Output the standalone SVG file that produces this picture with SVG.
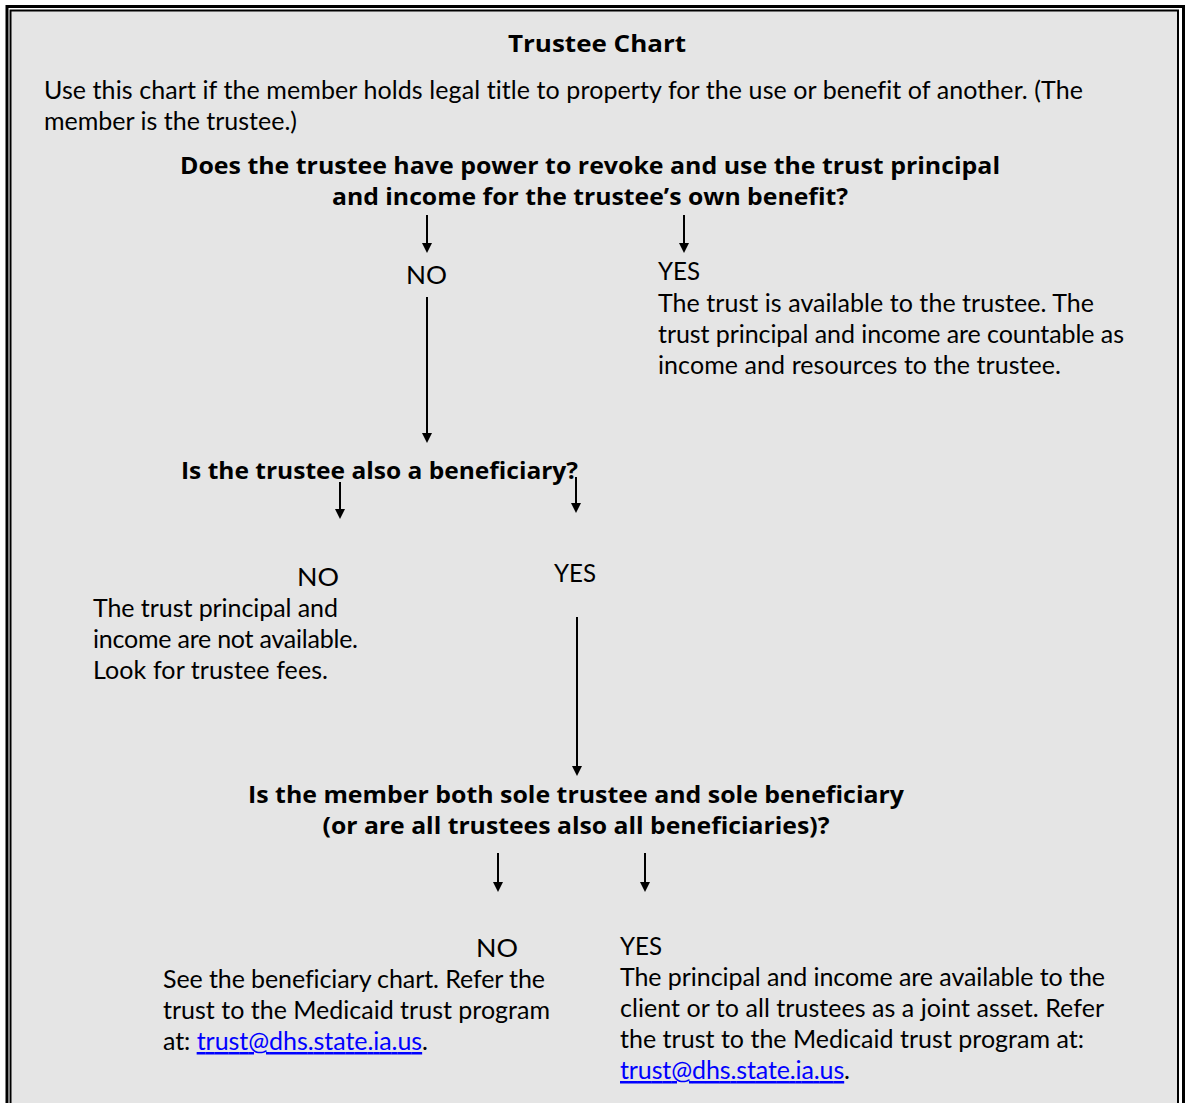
<svg xmlns="http://www.w3.org/2000/svg" width="1185" height="1103" viewBox="0 0 1185 1103">
<defs>
<marker id="ah" viewBox="0 0 10 10" refX="0" refY="5" markerWidth="10" markerHeight="10" markerUnits="userSpaceOnUse" orient="auto">
<path d="M0,0 L10,5 L0,10 z" fill="#000"/>
</marker>
<style>
text { font-family: "Lato", "Liberation Sans", sans-serif; font-size: 25px; fill: #000; font-variant-ligatures: none; }
.b { font-family: "Open Sans", "Liberation Sans", sans-serif; font-weight: bold; font-size: 24px; }
.c { text-anchor: middle; }
.lnk { fill: #0000ff; text-decoration: underline; }
.arr line { stroke: #000; stroke-width: 2; marker-end: url(#ah); }
</style>
</defs>
<rect x="0" y="0" width="1185" height="1103" fill="#ffffff"/>
<rect x="11" y="11" width="1166" height="1092" fill="#e5e5e5"/>
<g id="frame" fill="none" stroke="#000">
<path d="M7,1103 V6.5 H1183.5 V1103" stroke-width="3"/>
<path d="M10.5,1103 V10.5 H1178 V1103" stroke-width="2"/>
</g>
<g id="title"><text class="b c" x="597" y="52" textLength="178" lengthAdjust="spacingAndGlyphs">Trustee Chart</text></g>
<g id="intro">
<text x="44" y="99" textLength="1039" lengthAdjust="spacing">Use this chart if the member holds legal title to property for the use or benefit of another. (The</text>
<text x="44" y="130" textLength="253" lengthAdjust="spacing">member is the trustee.)</text>
</g>
<g id="q1">
<text class="b c" x="590" y="174" textLength="820" lengthAdjust="spacingAndGlyphs">Does the trustee have power to revoke and use the trust principal</text>
<text class="b c" x="590" y="205" textLength="516" lengthAdjust="spacingAndGlyphs">and income for the trustee’s own benefit?</text>
</g>
<g id="q1-no"><text x="406" y="284" textLength="41" lengthAdjust="spacingAndGlyphs">NO</text></g>
<g id="q1-yes">
<text x="658" y="280" textLength="42" lengthAdjust="spacingAndGlyphs">YES</text>
<text x="658" y="312" textLength="436" lengthAdjust="spacing">The trust is available to the trustee. The</text>
<text x="658" y="343" textLength="466" lengthAdjust="spacing">trust principal and income are countable as</text>
<text x="658" y="374" textLength="403" lengthAdjust="spacing">income and resources to the trustee.</text>
</g>
<g id="q2"><text class="b" x="181" y="479" textLength="397" lengthAdjust="spacingAndGlyphs">Is the trustee also a beneficiary?</text></g>
<g id="q2-no">
<text x="297" y="586" textLength="42" lengthAdjust="spacingAndGlyphs">NO</text>
<text x="93" y="617" textLength="245" lengthAdjust="spacing">The trust principal and</text>
<text x="93" y="648" textLength="265" lengthAdjust="spacing">income are not available.</text>
<text x="93" y="679" textLength="235" lengthAdjust="spacing">Look for trustee fees.</text>
</g>
<g id="q2-yes"><text x="554" y="582" textLength="42" lengthAdjust="spacingAndGlyphs">YES</text></g>
<g id="q3">
<text class="b c" x="576" y="803" textLength="656" lengthAdjust="spacingAndGlyphs">Is the member both sole trustee and sole beneficiary</text>
<text class="b c" x="576" y="834" textLength="507" lengthAdjust="spacingAndGlyphs">(or are all trustees also all beneficiaries)?</text>
</g>
<g id="q3-no">
<text x="476" y="957" textLength="42" lengthAdjust="spacingAndGlyphs">NO</text>
<text x="163" y="988" textLength="382" lengthAdjust="spacing">See the beneficiary chart. Refer the</text>
<text x="163" y="1019" textLength="387" lengthAdjust="spacing">trust to the Medicaid trust program</text>
<text x="163" y="1050" textLength="265" lengthAdjust="spacing">at: <tspan class="lnk">trust@dhs.state.ia.us</tspan>.</text>
</g>
<g id="q3-yes">
<text x="620" y="955" textLength="42" lengthAdjust="spacingAndGlyphs">YES</text>
<text x="620" y="986" textLength="485" lengthAdjust="spacing">The principal and income are available to the</text>
<text x="620" y="1017" textLength="484" lengthAdjust="spacing">client or to all trustees as a joint asset. Refer</text>
<text x="620" y="1048" textLength="464" lengthAdjust="spacing">the trust to the Medicaid trust program at:</text>
<text x="620" y="1079" textLength="230" lengthAdjust="spacing"><tspan class="lnk">trust@dhs.state.ia.us</tspan>.</text>
</g>
<g id="connectors" class="arr">
<line x1="427" y1="215" x2="427" y2="243"/>
<line x1="684" y1="215" x2="684" y2="243"/>
<line x1="427" y1="297" x2="427" y2="433"/>
<line x1="340" y1="482" x2="340" y2="509"/>
<line x1="576" y1="477" x2="576" y2="503"/>
<line x1="577" y1="617" x2="577" y2="766"/>
<line x1="498" y1="853" x2="498" y2="882"/>
<line x1="645" y1="853" x2="645" y2="882"/>
</g>
</svg>
